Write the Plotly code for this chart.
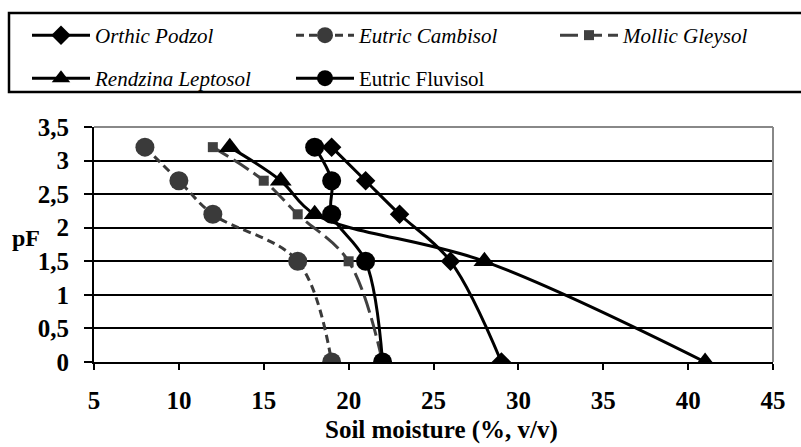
import plotly.graph_objects as go

# ---- data ----
pf_levels = [3.2, 2.7, 2.2, 1.5, 0]
orthic_podzol = [19, 21, 23, 26, 29]
eutric_cambisol = [8, 10, 12, 17, 19]
mollic_gleysol = [12, 15, 17, 20, 22]
rendzina_leptosol = [13, 16, 18, 28, 41]
eutric_fluvisol = [18, 19, 19, 21, 22]

x_ticks = [5, 10, 15, 20, 25, 30, 35, 40, 45]
x_ticktext = ["5", "10", "15", "20", "25", "30", "35", "40", "45"]
y_ticks = [0, 0.5, 1, 1.5, 2, 2.5, 3, 3.5]
y_ticktext = ["0", "0,5", "1", "1,5", "2", "2,5", "3", "3,5"]

FONT = "Liberation Serif"

L, R, T, B = 94, 28, 127, 85
W, H = 801, 447
pw, ph = W - L - R, H - T - B


def px2x(p):
    return (p - L) / pw


def px2y(p):
    return (H - B - p) / ph


fig = go.Figure()


def add(name, xs, color, dash, symbol, msize, legend):
    fig.add_trace(go.Scatter(
        x=xs, y=pf_levels, name=name, mode="lines+markers",
        line=dict(color=color, width=3, dash=dash, shape="spline", smoothing=1),
        marker=dict(symbol=symbol, size=msize, color=color),
        legend=legend, showlegend=True,
    ))


add("<i>Orthic Podzol</i>", orthic_podzol, "#000000", "solid", "diamond", 15, "legend")
add("<i>Eutric Cambisol</i>", eutric_cambisol, "#3a3a3a", "8px,5px", "circle", 19, "legend2")
add("<i>Mollic Gleysol</i>", mollic_gleysol, "#404040", "18px,6px", "square", 10, "legend3")
add("<i>Rendzina Leptosol</i>", rendzina_leptosol, "#000000", "solid", "triangle-up", 19, "legend4")
add("Eutric Fluvisol", eutric_fluvisol, "#000000", "solid", "circle", 19, "legend5")


def leg(x, y):
    return dict(
        x=px2x(x), y=px2y(y),
        orientation="h", xanchor="left", yanchor="top",
        font=dict(family=FONT, size=21, color="#000000"),
        itemwidth=58,
        bgcolor="rgba(0,0,0,0)", borderwidth=0,
        itemclick=False, visible=True,
    )


row1, row2 = 15, 58
col1, col2, col3 = 27, 291, 555

fig.update_layout(
    width=W, height=H,
    showlegend=True,
    margin=dict(l=L, r=R, t=T, b=B),
    paper_bgcolor="white", plot_bgcolor="white",
    font=dict(family=FONT, color="#000000"),
    legend=leg(col1, row1),
    legend2=leg(col2, row1),
    legend3=leg(col3, row1),
    legend4=leg(col1, row2),
    legend5=leg(col2, row2),
    xaxis=dict(
        range=[5, 45], tickvals=x_ticks, ticktext=x_ticktext,
        showgrid=False, zeroline=False,
        showline=True, linecolor="#000000", linewidth=2,
        ticks="outside", ticklen=6, tickwidth=2, tickcolor="#000000",
        tickfont=dict(family=FONT, size=25, color="#000000", weight="bold"),
        ticklabelstandoff=9,
        automargin=False,
    ),
    yaxis=dict(
        range=[0, 3.5], tickvals=y_ticks, ticktext=y_ticktext,
        showgrid=True, gridcolor="#000000", gridwidth=2,
        zeroline=False,
        showline=True, linecolor="#000000", linewidth=2,
        ticks="outside", ticklen=8, tickwidth=2, tickcolor="#000000",
        tickfont=dict(family=FONT, size=25, color="#000000", weight="bold"),
        ticklabelstandoff=10,
        automargin=False,
    ),
    shapes=[
        dict(type="line", xref="paper", yref="paper", x0=0, x1=1, y0=1, y1=1,
             line=dict(color="#888888", width=2)),
        dict(type="line", xref="paper", yref="paper", x0=1, x1=1, y0=0, y1=1,
             line=dict(color="#888888", width=2)),
        dict(type="rect", xref="paper", yref="paper",
             x0=px2x(9), x1=px2x(812), y0=px2y(92), y1=px2y(13),
             line=dict(color="#000000", width=2.5), fillcolor="rgba(0,0,0,0)"),
    ],
    annotations=[
        dict(text="<b>pF</b>", xref="paper", yref="paper",
             x=px2x(26), y=px2y(238), showarrow=False,
             font=dict(family=FONT, size=24, color="#000000"),
             xanchor="center", yanchor="middle"),
        dict(text="<b>Soil moisture (%, v/v)</b>", xref="paper", yref="paper",
             x=px2x(441), y=px2y(430), showarrow=False,
             font=dict(family=FONT, size=25, color="#000000"),
             xanchor="center", yanchor="middle"),
    ],
)

fig.write_html("out.html")
